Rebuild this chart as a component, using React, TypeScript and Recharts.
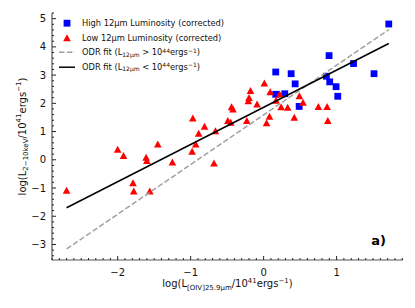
import { Label, Legend, Scatter, ScatterChart, XAxis, YAxis } from 'recharts'

// blue squares: high 12um luminosity sources
const highX = [1.715, 0.166, 0.377, 0.432, 0.166, 0.29, 0.487, 0.86, 0.897, 0.906, 0.993, 1.016, 1.232, 1.513]
const highY = [4.81, 3.11, 3.05, 2.69, 2.32, 2.34, 1.89, 2.96, 3.69, 2.76, 2.59, 2.25, 3.41, 3.05]

// red triangles: low 12um luminosity sources
const lowX = [
  -2.7, -2.0, -1.92, -1.45, -1.61, -1.6, -1.79, -1.78, -1.56, -1.25, -0.97, -0.98, -0.93, -0.89, -0.81, -0.66, -0.68,
  -0.49, -0.45, -0.44, -0.42, -0.23, -0.21, -0.2, -0.18, -0.09, 0.01, 0.04, 0.08, 0.09, 0.17, 0.22, 0.24, 0.33, 0.42,
  0.49, 0.54, 0.75, 0.87, 0.88,
]
const lowY = [
  -1.09, 0.36, 0.14, 0.55, 0.08, -0.04, -0.82, -1.12, -1.12, -0.09, 1.47, 0.29, 0.55, 0.93, 1.18, 1.02, -0.12, 1.38,
  1.32, 1.87, 1.79, 1.38, 2.08, 2.2, 2.44, 1.97, 2.71, 1.3, 1.53, 2.4, 2.1, 2.32, 1.87, 1.85, 1.5, 2.26, 2.03, 1.88,
  1.88, 1.38,
]

// ODR fit end points
const fitX = [-2.7, 1.715]
const fitHighY = [-3.16, 4.61]
const fitLowY = [-1.7, 4.12]

const xMajor = [-2, -1, 0, 1]
const yMajor = [-3, -2, -1, 0, 1, 2, 3, 4, 5]
const xDomain: [number, number] = [-2.9, 1.91]
const yDomain: [number, number] = [-3.55, 5.2]

const FONT = '"DejaVu Sans", sans-serif'
const AXIS = '#555'

const zip = (xs: number[], ys: number[]) => xs.map((x, i) => ({ x, y: ys[i] }))
const highData = zip(highX, highY)
const lowData = zip(lowX, lowY)
const fitHigh = zip(fitX, fitHighY)
const fitLow = zip(fitX, fitLowY)

// minor ticks: 0.1 on x, 0.2 on y; majors come from the arrays above
const xTicks: number[] = []
for (let i = -29; i <= 19; i++) xTicks.push(i / 10)
const yTicks: number[] = []
for (let i = -17; i <= 26; i++) yTicks.push(i / 5)

const isMajor = (v: number, majors: number[]) => majors.some((m) => Math.abs(m - v) < 1e-6)
const fmt = (v: number) => (v < 0 ? `\u2212${-v}` : `${v}`)

const BottomTick = (p: any) => {
  const v = p.payload.value
  const major = isMajor(v, xMajor)
  return (
    <g>
      <line x1={p.x} x2={p.x} y1={p.y} y2={p.y - (major ? 4 : 2)} stroke="#222" />
      {major && (
        <text x={p.x} y={p.y + 15.5} textAnchor="middle" fontSize={10} fontFamily={FONT} fill="#111">
          {fmt(v)}
        </text>
      )}
    </g>
  )
}

const TopTick = (p: any) => {
  const major = isMajor(p.payload.value, xMajor)
  return <line x1={p.x} x2={p.x} y1={p.y} y2={p.y + (major ? 4 : 2)} stroke="#222" />
}

const LeftTick = (p: any) => {
  const v = p.payload.value
  const major = isMajor(v, yMajor)
  return (
    <g>
      <line x1={p.x} x2={p.x + (major ? 4 : 2)} y1={p.y} y2={p.y} stroke="#222" />
      {major && (
        <text x={p.x - 6} y={p.y + 3.6} textAnchor="end" fontSize={10} fontFamily={FONT} fill="#111">
          {fmt(v)}
        </text>
      )}
    </g>
  )
}

const RightTick = (p: any) => {
  const major = isMajor(p.payload.value, yMajor)
  return <line x1={p.x} x2={p.x - (major ? 4 : 2)} y1={p.y} y2={p.y} stroke="#222" />
}

const Square = (p: any) => <rect x={p.cx - 3.4} y={p.cy - 3.4} width={6.8} height={6.8} fill="#0000ff" />
const Triangle = (p: any) => (
  <polygon
    points={`${p.cx},${p.cy - 3.8} ${p.cx - 3.8},${p.cy + 3.2} ${p.cx + 3.8},${p.cy + 3.2}`}
    fill="#ff0000"
  />
)
const NoDot = () => <g />

const sub = { fontSize: '0.72em', position: 'relative' as const, top: '0.25em' }
const sup = { fontSize: '0.72em', position: 'relative' as const, top: '-0.45em' }

const legendRows = [
  {
    marker: <rect x={5.6} y={3.8} width={6.8} height={6.8} fill="#0000ff" />,
    text: <>High 12μm Luminosity (corrected)</>,
  },
  {
    marker: <polygon points="9,3.2 5.2,10.2 12.8,10.2" fill="#ff0000" />,
    text: <>Low 12μm Luminosity (corrected)</>,
  },
  {
    marker: <line x1={1} x2={17} y1={7.2} y2={7.2} stroke="#a0a0a0" strokeWidth={1.5} strokeDasharray="5.5 2.4" />,
    text: (
      <>
        ODR fit (L<span style={sub}>12μm</span> &gt; 10<span style={sup}>44</span>ergs<span style={sup}>−1</span>)
      </>
    ),
  },
  {
    marker: <line x1={1} x2={17} y1={7.2} y2={7.2} stroke="#000" strokeWidth={1.5} />,
    text: (
      <>
        ODR fit (L<span style={sub}>12μm</span> &lt; 10<span style={sup}>44</span>ergs<span style={sup}>−1</span>)
      </>
    ),
  },
]

const LegendBox = () => (
  <div style={{ fontFamily: FONT, fontSize: 8.3, color: '#111' }}>
    {legendRows.map((row, i) => (
      <div key={i} style={{ display: 'flex', alignItems: 'center', height: 14.5, whiteSpace: 'nowrap' }}>
        <svg width={18} height={14.5} style={{ marginRight: 6 }}>
          {row.marker}
        </svg>
        <span>{row.text}</span>
      </div>
    ))}
  </div>
)

const XTitle = (p: any) => {
  const vb = p.viewBox
  return (
    <text x={vb.x + vb.width / 2} y={vb.y + 27} textAnchor="middle" fontSize={10} fontFamily={FONT} fill="#111">
      log(L
      <tspan fontSize={7} dy={2.5}>[OIV]25.9μm</tspan>
      <tspan dy={-2.5}>/10</tspan>
      <tspan fontSize={7} dy={-4}>41</tspan>
      <tspan dy={4}>ergs</tspan>
      <tspan fontSize={7} dy={-4}>−1</tspan>
      <tspan dy={4}>)</tspan>
    </text>
  )
}

// panel tag sits inside the plot, lower right, measured from the bottom axis box
const PanelTag = (p: any) => {
  const vb = p.viewBox
  return (
    <text
      x={vb.x + vb.width - 17}
      y={vb.y - 15}
      textAnchor="end"
      fontSize={13}
      fontWeight="bold"
      fontFamily={FONT}
      fill="#000"
    >
      a)
    </text>
  )
}

const YTitle = (p: any) => {
  const vb = p.viewBox
  const cx = 23
  const cy = vb.y + vb.height / 2
  return (
    <text
      x={cx}
      y={cy}
      transform={`rotate(-90 ${cx} ${cy})`}
      textAnchor="middle"
      dominantBaseline="middle"
      fontSize={10}
      fontFamily={FONT}
      fill="#111"
    >
      log(L
      <tspan fontSize={7} dy={2.5}>2−10keV</tspan>
      <tspan dy={-2.5}>/10</tspan>
      <tspan fontSize={7} dy={-4}>41</tspan>
      <tspan dy={4}>ergs</tspan>
      <tspan fontSize={7} dy={-4}>−1</tspan>
      <tspan dy={4}>)</tspan>
    </text>
  )
}

export default function App() {
  return (
    <div style={{ position: 'absolute', left: 0, top: 0 }}>
      <ScatterChart width={415} height={308} margin={{ top: 13, right: 12, bottom: 0, left: 0 }}>
        <XAxis
          type="number"
          dataKey="x"
          domain={xDomain}
          allowDataOverflow
          ticks={xTicks}
          interval={0}
          tickSize={0}
          tickMargin={0}
          tickLine={false}
          tick={BottomTick}
          height={48}
          axisLine={{ stroke: AXIS, strokeWidth: 1.2 }}
        >
          <Label content={XTitle} />
          <Label content={PanelTag} />
        </XAxis>
        <XAxis
          xAxisId="top"
          orientation="top"
          type="number"
          dataKey="x"
          domain={xDomain}
          allowDataOverflow
          ticks={xTicks}
          interval={0}
          tickSize={0}
          tickMargin={0}
          tickLine={false}
          tick={TopTick}
          height={0}
          axisLine={{ stroke: AXIS, strokeWidth: 1.2 }}
        />
        <YAxis
          type="number"
          dataKey="y"
          domain={yDomain}
          allowDataOverflow
          ticks={yTicks}
          interval={0}
          tickSize={0}
          tickMargin={0}
          tickLine={false}
          tick={LeftTick}
          width={52}
          axisLine={{ stroke: AXIS, strokeWidth: 1.2 }}
        >
          <Label content={YTitle} />
        </YAxis>
        <YAxis
          yAxisId="right"
          orientation="right"
          type="number"
          dataKey="y"
          domain={yDomain}
          allowDataOverflow
          ticks={yTicks}
          interval={0}
          tickSize={0}
          tickMargin={0}
          tickLine={false}
          tick={RightTick}
          width={0}
          axisLine={{ stroke: AXIS, strokeWidth: 1.2 }}
        />
        <Legend
          content={LegendBox}
          layout="vertical"
          align="center"
          verticalAlign="middle"
          wrapperStyle={{ left: 58, top: 16, width: 'auto', height: 'auto' }}
        />
        <Scatter name="high" data={highData} shape={Square} isAnimationActive={false} />
        <Scatter name="low" data={lowData} shape={Triangle} isAnimationActive={false} />
        <Scatter
          name="fitHigh"
          data={fitHigh}
          shape={NoDot}
          line={{ stroke: '#a0a0a0', strokeWidth: 1.5, strokeDasharray: '5.5 2.4' }}
          isAnimationActive={false}
        />
        <Scatter
          name="fitLow"
          data={fitLow}
          shape={NoDot}
          line={{ stroke: '#000', strokeWidth: 1.5 }}
          isAnimationActive={false}
        />
      </ScatterChart>
    </div>
  )
}
